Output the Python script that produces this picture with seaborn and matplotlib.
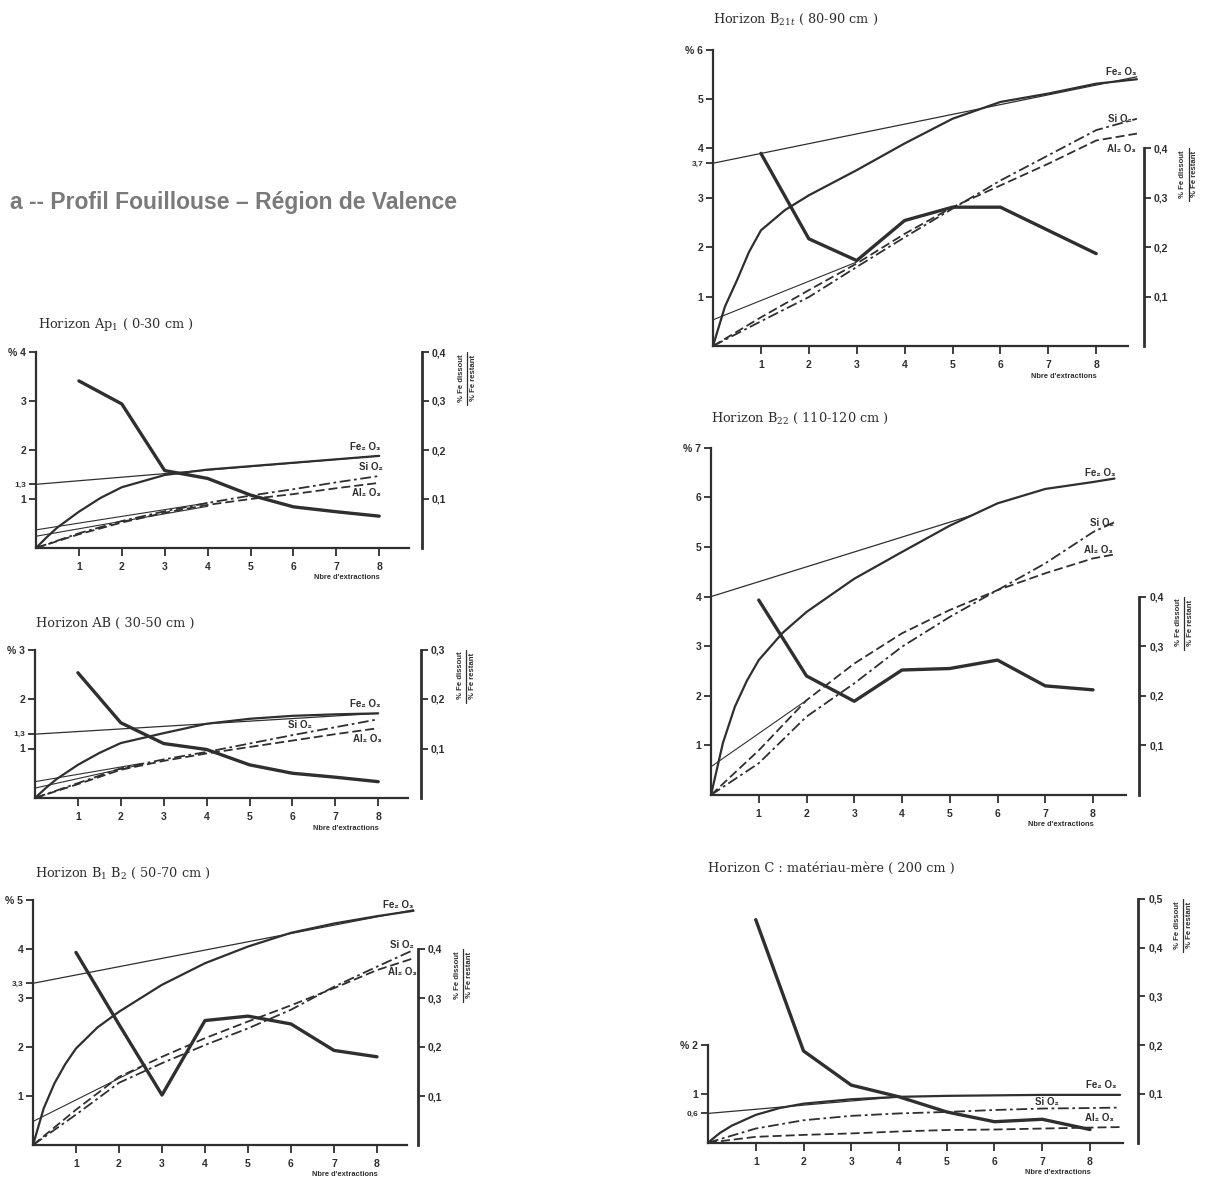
import matplotlib
matplotlib.use("Agg")
import matplotlib.pyplot as plt
from matplotlib.lines import Line2D
import seaborn as sns

sns.set_theme(style="white")
plt.rcParams['font.family'] = ['Liberation Sans', 'DejaVu Sans']
plt.rcParams['mathtext.fontset'] = 'dejavuserif'

INK = '#2f2f2f'
W, H = 1218, 1180

# ---------------- data ----------------
extractions = [1, 2, 3, 4, 5, 6, 7, 8]

# Horizon Ap1 (0-30 cm)
ap1_fe_x = [0, 0.25, 0.5, 1, 1.5, 2, 3, 4, 5, 6, 7, 8]
ap1_fe = [0, 0.22, 0.42, 0.74, 1.02, 1.24, 1.49, 1.6, 1.67, 1.74, 1.81, 1.88]
ap1_ox_x = [0, 1, 2, 3, 4, 5, 6, 7, 8]
ap1_si = [0, 0.3, 0.55, 0.75, 0.92, 1.07, 1.2, 1.34, 1.47]
ap1_al = [0, 0.28, 0.52, 0.72, 0.88, 1.0, 1.1, 1.22, 1.33]
ap1_ratio = [0.341, 0.294, 0.158, 0.142, 0.108, 0.084, 0.074, 0.065]
ap1_fe_asym_x, ap1_fe_asym = [0, 8], [1.3, 1.88]
ap1_ox_asym_x = [0, 4]
ap1_ox_asym = [[0.37, 0.92], [0.24, 0.85]]

# Horizon AB (30-50 cm)
ab_fe_x = [0, 0.25, 0.5, 1, 1.5, 2, 3, 4, 5, 6, 7, 8]
ab_fe = [0, 0.2, 0.38, 0.67, 0.91, 1.11, 1.31, 1.5, 1.6, 1.66, 1.69, 1.71]
ab_ox_x = [0, 1, 2, 3, 4, 5, 6, 7, 8]
ab_si = [0, 0.3, 0.6, 0.78, 0.93, 1.1, 1.27, 1.43, 1.59]
ab_al = [0, 0.28, 0.57, 0.75, 0.9, 1.03, 1.16, 1.29, 1.41]
ab_ratio = [0.253, 0.152, 0.11, 0.098, 0.067, 0.05, 0.042, 0.033]
ab_fe_asym_x, ab_fe_asym = [0, 8], [1.29, 1.71]
ab_ox_asym_x = [0, 2.5]
ab_ox_asym = [[0.33, 0.7], [0.2, 0.68]]

# Horizon B1 B2 (50-70 cm)
b12_fe_x = [0, 0.25, 0.5, 0.75, 1, 1.5, 2, 3, 4, 5, 6, 7, 8, 8.85]
b12_fe = [0, 0.75, 1.26, 1.65, 1.97, 2.4, 2.72, 3.27, 3.71, 4.05, 4.33, 4.52, 4.67, 4.78]
b12_ox_x = [0, 1, 2, 3, 4, 5, 6, 7, 8, 8.85]
b12_si = [0, 0.62, 1.27, 1.67, 2.04, 2.38, 2.76, 3.23, 3.64, 3.98]
b12_al = [0, 0.72, 1.39, 1.8, 2.18, 2.52, 2.85, 3.2, 3.57, 3.81]
b12_ratio = [0.393, 0.246, 0.102, 0.254, 0.263, 0.247, 0.193, 0.18]
b12_fe_asym_x, b12_fe_asym = [0, 8.85], [3.3, 4.8]
b12_ox_asym_x = [0, 2.5]
b12_ox_asym = [[0.48, 1.58]]

# Horizon B21t (80-90 cm)
b21_fe_x = [0, 0.25, 0.5, 0.75, 1, 1.5, 2, 3, 4, 5, 6, 7, 8, 8.85]
b21_fe = [0, 0.8, 1.33, 1.9, 2.34, 2.75, 3.05, 3.56, 4.1, 4.6, 4.94, 5.11, 5.31, 5.4]
b21_ox_x = [0, 1, 2, 3, 4, 5, 6, 7, 8, 8.85]
b21_si = [0, 0.5, 0.99, 1.6, 2.2, 2.78, 3.35, 3.86, 4.37, 4.6]
b21_al = [0, 0.58, 1.13, 1.67, 2.27, 2.81, 3.25, 3.69, 4.16, 4.3]
b21_ratio = [0.39, 0.217, 0.173, 0.254, 0.281, 0.281, 0.234, 0.187]
b21_fe_asym_x, b21_fe_asym = [0, 8.85], [3.7, 5.45]
b21_ox_asym_x = [0, 3]
b21_ox_asym = [[0.53, 1.7]]

# Horizon B22 (110-120 cm)
b22_fe_x = [0, 0.25, 0.5, 0.75, 1, 1.5, 2, 3, 4, 5, 6, 7, 8, 8.45]
b22_fe = [0, 1.05, 1.78, 2.3, 2.72, 3.27, 3.69, 4.36, 4.9, 5.43, 5.88, 6.17, 6.31, 6.38]
b22_ox_x = [0, 1, 2, 3, 4, 5, 6, 7, 8, 8.45]
b22_si = [0, 0.64, 1.58, 2.25, 2.99, 3.59, 4.13, 4.67, 5.3, 5.5]
b22_al = [0, 0.9, 1.91, 2.65, 3.26, 3.73, 4.13, 4.47, 4.77, 4.85]
b22_ratio = [0.393, 0.24, 0.189, 0.252, 0.255, 0.272, 0.22, 0.212]
b22_fe_asym_x, b22_fe_asym = [0, 5.5], [4.0, 5.65]
b22_ox_asym_x = [0, 2]
b22_ox_asym = [[0.57, 1.91]]

# Horizon C : matériau-mère (200 cm)
c_fe_x = [0, 0.25, 0.5, 1, 1.5, 2, 3, 4, 5, 6, 7, 8, 8.63]
c_fe = [0, 0.2, 0.35, 0.57, 0.71, 0.8, 0.89, 0.94, 0.96, 0.97, 0.98, 0.98, 0.98]
c_ox_x = [0, 1, 2, 3, 4, 5, 6, 7, 8, 8.63]
c_si = [0, 0.29, 0.46, 0.55, 0.6, 0.63, 0.67, 0.7, 0.71, 0.72]
c_al = [0, 0.12, 0.16, 0.19, 0.23, 0.26, 0.27, 0.29, 0.31, 0.32]
c_ratio = [0.457, 0.188, 0.118, 0.094, 0.063, 0.043, 0.048, 0.027]
c_fe_asym_x, c_fe_asym = [0, 4], [0.6, 0.94]
c_ox_asym_x = [0, 0]
c_ox_asym = []

# ---------------- panels: data refs + layout ----------------
panels = [
    dict(title="Horizon Ap$_1$ ( 0-30 cm )", tpos=(38, 325),
         fe_x=ap1_fe_x, fe=ap1_fe, ox_x=ap1_ox_x, si=ap1_si, al=ap1_al, ratio=ap1_ratio,
         fa_x=ap1_fe_asym_x, fa=ap1_fe_asym, oa_x=ap1_ox_asym_x, oa=ap1_ox_asym,
         x0=36, xu=42.9, xend=8.7, y0=548, yu=49, ltop=4, rtop=0.4, roff=13,
         extra=(1.3, "1,3"), lab=[(7.67, 2.06), (7.8, 1.65), (7.7, 1.12)]),
    dict(title="Horizon AB ( 30-50 cm )", tpos=(36, 623),
         fe_x=ab_fe_x, fe=ab_fe, ox_x=ab_ox_x, si=ab_si, al=ab_al, ratio=ab_ratio,
         fa_x=ab_fe_asym_x, fa=ab_fe_asym, oa_x=ab_ox_asym_x, oa=ab_ox_asym,
         x0=35, xu=42.9, xend=8.7, y0=798, yu=49.5, ltop=3, rtop=0.3, roff=13,
         extra=(1.3, "1,3"), lab=[(7.7, 1.9), (6.18, 1.47), (7.76, 1.19)]),
    dict(title="Horizon B$_1$ B$_2$ ( 50-70 cm )", tpos=(35, 873),
         fe_x=b12_fe_x, fe=b12_fe, ox_x=b12_ox_x, si=b12_si, al=b12_al, ratio=b12_ratio,
         fa_x=b12_fe_asym_x, fa=b12_fe_asym, oa_x=b12_ox_asym_x, oa=b12_ox_asym,
         x0=33, xu=43.0, xend=8.7, y0=1145, yu=49, ltop=5, rtop=0.4, roff=11,
         extra=(3.3, "3,3"), lab=[(8.5, 4.9), (8.58, 4.08), (8.58, 3.54)]),
    dict(title="Horizon B$_{21t}$ ( 80-90 cm )", tpos=(713, 19),
         fe_x=b21_fe_x, fe=b21_fe, ox_x=b21_ox_x, si=b21_si, al=b21_al, ratio=b21_ratio,
         fa_x=b21_fe_asym_x, fa=b21_fe_asym, oa_x=b21_ox_asym_x, oa=b21_ox_asym,
         x0=713, xu=47.9, xend=8.66, y0=346, yu=49.4, ltop=6, rtop=0.4, roff=16,
         extra=(3.7, "3,7"), lab=[(8.53, 5.55), (8.5, 4.59), (8.53, 3.98)]),
    dict(title="Horizon B$_{22}$ ( 110-120 cm )", tpos=(711, 418),
         fe_x=b22_fe_x, fe=b22_fe, ox_x=b22_ox_x, si=b22_si, al=b22_al, ratio=b22_ratio,
         fa_x=b22_fe_asym_x, fa=b22_fe_asym, oa_x=b22_ox_asym_x, oa=b22_ox_asym,
         x0=711, xu=47.75, xend=8.7, y0=795, yu=49.6, ltop=7, rtop=0.4, roff=13,
         extra=None, lab=[(8.15, 6.49), (8.18, 5.48), (8.11, 4.93)]),
    dict(title="Horizon C : matériau-mère ( 200 cm )", tpos=(708, 868),
         fe_x=c_fe_x, fe=c_fe, ox_x=c_ox_x, si=c_si, al=c_al, ratio=c_ratio,
         fa_x=c_fe_asym_x, fa=c_fe_asym, oa_x=c_ox_asym_x, oa=c_ox_asym,
         x0=708, xu=47.75, xend=8.7, y0=1142.7, yu=48.8, ltop=2, rtop=0.5, roff=15,
         extra=(0.6, "0,6"), lab=[(8.24, 1.18), (7.09, 0.84), (8.2, 0.5)]),
]

fig = plt.figure(figsize=(W / 100, H / 100), dpi=100)
fig.patch.set_facecolor('white')

fig.text(10 / W, 1 - 203 / H, "a -- Profil Fouillouse \u2013 Région de Valence",
         fontsize=16.5, fontweight='bold', color='#7a7a7a', ha='left', va='center')

SI_DASH = (0, (6, 2, 1.5, 2))
AL_DASH = (0, (5, 2.2))

for p in panels:
    ymax = max(p['ltop'], p['rtop'] * 10)
    ax = fig.add_axes([p['x0'] / W, 1 - p['y0'] / H,
                       p['xend'] * p['xu'] / W, ymax * p['yu'] / H])
    ax.patch.set_alpha(0)
    # asymptote lines (thin)
    sns.lineplot(x=p['fa_x'], y=p['fa'], ax=ax, color=INK, lw=0.9, clip_on=False)
    for ya in p['oa']:
        sns.lineplot(x=p['oa_x'], y=ya, ax=ax, color=INK, lw=0.8, clip_on=False)
    # cumulative extractions
    sns.lineplot(x=p['fe_x'], y=p['fe'], ax=ax, color=INK, lw=1.6, clip_on=False)
    sns.lineplot(x=p['ox_x'], y=p['si'], ax=ax, color=INK, lw=1.3,
                 linestyle=SI_DASH, clip_on=False)
    sns.lineplot(x=p['ox_x'], y=p['al'], ax=ax, color=INK, lw=1.3,
                 linestyle=AL_DASH, clip_on=False)
    ax.set_xlim(0, p['xend'])
    ax.set_ylim(0, ymax)
    ax.set_xlabel('')
    ax.set_ylabel('')

    # oxide labels
    for (lx, ly), txt in zip(p['lab'], ["Fe\u2082 O\u2083", "Si O\u2082", "Al\u2082 O\u2083"]):
        ax.text(lx, ly, txt, fontsize=7, fontweight='bold', color=INK,
                ha='center', va='center')

    # left axis
    for s in ['top', 'right']:
        ax.spines[s].set_visible(False)
    ax.spines['left'].set_bounds(0, p['ltop'])
    ax.spines['bottom'].set_bounds(0, p['xend'])
    ax.spines['left'].set_linewidth(1.6)
    ax.spines['bottom'].set_linewidth(1.6)
    ax.spines['left'].set_color(INK)
    ax.spines['bottom'].set_color(INK)
    yt = list(range(1, p['ltop'] + 1))
    yl = [str(v) for v in yt]
    yl[-1] = "% " + yl[-1]
    if p['extra'] is not None:
        yt.append(p['extra'][0])
        yl.append(p['extra'][1])
    ax.set_yticks(yt)
    ax.set_yticklabels(yl, fontweight='bold', fontsize=7.5, color=INK)
    if p['extra'] is not None:
        t = ax.yaxis.get_major_ticks()[-1]
        t.tick1line.set_visible(False)
        t.label1.set_fontsize(6)
    ax.set_xticks(extractions)
    ax.set_xticklabels([str(v) for v in extractions], fontweight='bold', fontsize=7.5, color=INK)
    ax.tick_params(axis='y', left=True, direction='out', length=5, width=1.3, pad=2, colors=INK)
    ax.tick_params(axis='x', bottom=True, direction='out', length=6, width=1.3, pad=4, colors=INK)

    # right axis : % Fe dissous / % Fe restant
    ax2 = ax.twinx()
    sns.lineplot(x=extractions, y=p['ratio'], ax=ax2, color=INK, lw=2.4, clip_on=False)
    ax2.set_ylim(0, ymax / 10)
    ax2.set_ylabel('')
    for s in ['top', 'left', 'bottom']:
        ax2.spines[s].set_visible(False)
    ax2.spines['right'].set_position(('outward', p['roff'] * 0.72))
    ax2.spines['right'].set_bounds(0, p['rtop'])
    ax2.spines['right'].set_linewidth(2.0)
    ax2.spines['right'].set_color(INK)
    rt = [round(0.1 * k, 1) for k in range(1, int(round(p['rtop'] * 10)) + 1)]
    ax2.set_yticks(rt)
    ax2.set_yticklabels([("%.1f" % v).replace('.', ',') for v in rt],
                        fontweight='bold', fontsize=7.5, color=INK)
    ax2.tick_params(axis='y', right=True, direction='out', length=5, width=1.3, pad=2, colors=INK)

    # fraction label next to right axis
    xr = p['x0'] + p['xend'] * p['xu'] + p['roff']
    ytop = p['y0'] - p['rtop'] * 10 * p['yu']
    fig.text((xr + 39) / W, 1 - (ytop + 26) / H, "% Fe dissout", rotation=90,
             fontsize=5.6, fontweight='bold', color=INK, ha='center', va='center')
    fig.text((xr + 51) / W, 1 - (ytop + 26) / H, "% Fe restant", rotation=90,
             fontsize=5.6, fontweight='bold', color=INK, ha='center', va='center')
    fig.add_artist(Line2D([(xr + 45) / W] * 2, [1 - ytop / H, 1 - (ytop + 53) / H],
                          color=INK, lw=0.9))

    # x label
    fig.text((p['x0'] + 8 * p['xu'] + 1) / W, 1 - (p['y0'] + 30) / H, "Nbre d'extractions",
             fontsize=5.4, fontweight='bold', color=INK, ha='right', va='center')

    # panel title
    fig.text(p['tpos'][0] / W, 1 - p['tpos'][1] / H, p['title'], family='DejaVu Serif',
             fontsize=9.3, color=INK, ha='left', va='center')

fig.savefig("out.png", dpi=100, facecolor='white')
